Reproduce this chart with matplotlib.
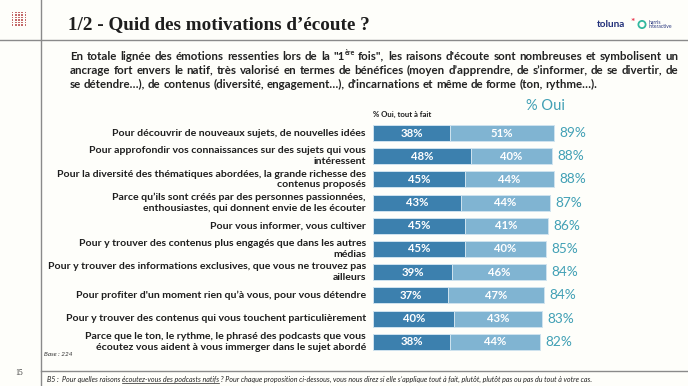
import math
import matplotlib
matplotlib.use("Agg")
import matplotlib.pyplot as plt
from matplotlib.patches import Rectangle, Circle
from matplotlib.font_manager import FontProperties
import numpy as np

# ---------------- data ----------------
categories = [
    "Pour découvrir de nouveaux sujets, de nouvelles idées",
    "Pour approfondir vos connaissances sur des sujets qui vous\nintéressent",
    "Pour la diversité des thématiques abordées, la grande richesse des\ncontenus proposés",
    "Parce qu\u2019ils sont créés par des personnes passionnées,\nenthousiastes, qui donnent envie de les écouter",
    "Pour vous informer, vous cultiver",
    "Pour y trouver des contenus plus engagés que dans les autres\nmédias",
    "Pour y trouver des informations exclusives, que vous ne trouvez pas\nailleurs",
    "Pour profiter d'un moment rien qu\u2019à vous, pour vous détendre",
    "Pour y trouver des contenus qui vous touchent particulièrement",
    "Parce que le ton, le rythme, le phrasé des podcasts que vous\nécoutez vous aident à vous immerger dans le sujet abordé",
]
tout_a_fait = [38, 48, 45, 43, 45, 45, 39, 37, 40, 38]
plutot = [51, 40, 44, 44, 41, 40, 46, 47, 43, 44]
total_oui = [89, 88, 88, 87, 86, 85, 84, 84, 83, 82]

title = "1/2 - Quid des motivations d\u2019écoute ?"
para_lines = [
    'En totale lignée des émotions ressenties lors de la "1^ère fois", les raisons d\'écoute sont nombreuses et symbolisent un',
    "ancrage fort envers le natif, très valorisé en termes de bénéfices (moyen d\u2019apprendre, de s\u2019informer, de se divertir, de",
    "se détendre\u2026), de contenus (diversité, engagement\u2026), d'incarnations et même de forme (ton, rythme\u2026).",
]
header_total = "% Oui"
header_dark = "% Oui, tout à fait"
base_txt = "Base : 224"
page_no = "15"
footer_parts = [("B5 :  Pour quelles raisons ", False),
                ("écoutez-vous des podcasts natifs", True),
                (" ? Pour chaque proposition ci-dessous, vous nous direz si elle s\u2019applique tout à fait, plutôt, plutôt pas ou pas du tout à votre cas.", False)]

# ---------------- style ----------------
BG = "#fefefa"
DARK = "#3c80ae"
LIGHT = "#80b4d2"
TEAL = "#41a0b5"
TXT = "#1e1e1e"
SANS = ["Lato", "DejaVu Sans"]
SERIF = ["Liberation Serif", "DejaVu Serif"]

W, H = 688, 386
fig = plt.figure(figsize=(W / 100, H / 100), dpi=100, facecolor=BG)
ov = fig.add_axes([0, 0, 1, 1])
ov.set_xlim(0, W)
ov.set_ylim(H, 0)
ov.axis("off")
R = fig.canvas.get_renderer()


def nb(s):
    return s.replace(" ", "\u00a0")


def measure(txt, **kw):
    t = ov.text(0, 0, txt, **kw)
    w = t.get_window_extent(renderer=R).width
    t.remove()
    return w


def snapped_y(txt, fs, Y):
    # place the glyph baseline exactly on pixel row Y (Agg bitmap placement)
    fp = FontProperties(family=SANS, weight="bold", size=fs)
    _, hh, dd = R.get_text_width_height_descent(txt, fp, ismath=False)
    return Y + math.floor(hh) - math.floor(hh - dd) - dd


def fit_size(txt, target, base=10, **kw):
    return base * target / measure(txt, fontsize=base, **kw)


# frame lines
ov.plot([41, 41], [0, H], color="#8a8a8a", lw=1.0)
ov.plot([0, W], [40, 40], color="#8a8a8a", lw=1.0)
ov.plot([41, W], [371, 371], color="#8a8a8a", lw=1.0)

# top-left icon (grid of small squares)
for cx in np.linspace(12.5, 25.5, 5):
    for cy in np.linspace(12.5, 25, 6):
        ov.add_patch(Rectangle((cx - 0.9, cy - 0.9), 1.8, 1.8, color="#c46a6a", lw=0))

# title
fs_title = fit_size(title, 302, family=SERIF, weight="bold")
ov.text(68, 25, title, family=SERIF, weight="bold", fontsize=fs_title, color=TXT,
        ha="left", va="center")

# logo
ov.text(597, 24.5, "toluna", family=SANS, weight="bold", fontsize=7.2, color="#22307a",
        ha="left", va="center")
ov.text(630.5, 22.5, "*", family=SANS, weight="bold", fontsize=7.5, color="#e8334a",
        ha="left", va="center")
ov.add_patch(Circle((642, 24.5), 3.6, fill=False, ec="#33b8a0", lw=1.3))
ov.text(648.5, 24.5, "harris\ninteractive", family=SANS, fontsize=3.6, color="#22307a",
        ha="left", va="center", linespacing=0.95)

# paragraph (justified, word by word, baseline-snapped)
PKW = dict(family=SANS, weight="bold", color="#222222")
SUP = 0.62


def parse_words(line):
    words = []
    for w in line.split(" "):
        if "^" in w:
            a, b = w.split("^")
            words.append([(a, False), (b, True)])
        else:
            words.append([(w, False)])
    return words


def word_width(word, fs):
    return sum(measure(s, fontsize=fs * (SUP if sup else 1), **PKW) for s, sup in word if s)


base_fs = 10
w_nat = max(measure(nb(para_lines[0].replace("^", "")), fontsize=base_fs, **PKW),
            measure(nb(para_lines[1]), fontsize=base_fs, **PKW))
fs_p = base_fs * 602 / w_nat
space_w = measure("a\u00a0a", fontsize=fs_p, **PKW) - measure("aa", fontsize=fs_p, **PKW)
x0p, x1p = 70, 678
baselines = [60, 74, 88]
for li, line in enumerate(para_lines):
    words = parse_words(line)
    widths = [word_width(w, fs_p) for w in words]
    if li < len(para_lines) - 1:
        gap = (x1p - x0p - sum(widths)) / (len(words) - 1)
    else:
        gap = space_w
    x = x0p
    for w, ww in zip(words, widths):
        xx = x
        for s, sup in w:
            f = fs_p * (SUP if sup else 1)
            Y = baselines[li] - (round(fs_p * 0.55) if sup else 0)
            ov.text(xx, snapped_y(s, f, Y), s, fontsize=f, ha="left", va="baseline", **PKW)
            xx += measure(s, fontsize=f, **PKW)
        x += ww + gap

# ---------------- bars ----------------
n = len(categories)
px_per_pct = 2.035
row_h = 23.2
top_c = 133
bx_left, bx_w = 373, 100 * px_per_pct
bx_top = top_c - row_h / 2
bx_bot = top_c + row_h * (n - 1) + row_h / 2
bx = fig.add_axes([bx_left / W, 1 - bx_bot / H, bx_w / W, (bx_bot - bx_top) / H])
bx.set_xlim(0, 100)
bx.set_ylim(n - 0.5, -0.5)
bx.axis("off")
bx.patch.set_alpha(0)

y = np.arange(n)
d = np.array(tout_a_fait)
p = np.array(plutot)
bx.barh(y, d, height=0.69, color=DARK, edgecolor="#cfe3ef", linewidth=0.7)
bx.barh(y, p, left=d, height=0.69, color=LIGHT, edgecolor="#cfe3ef", linewidth=0.7)

for i in range(n):
    bx.text(d[i] / 2, i, f"{d[i]}%", color="white", fontsize=8.2, family=SANS,
            weight="bold", ha="center", va="center")
    bx.text(d[i] + p[i] / 2, i, f"{p[i]}%", color="white", fontsize=8.2, family=SANS,
            weight="bold", ha="center", va="center")
    bx.annotate(f"{total_oui[i]}%", (d[i] + p[i], i), xytext=(4, 0),
                textcoords="offset points", color=TEAL, fontsize=9.8, family=SANS,
                ha="left", va="center")

# category labels
LKW = dict(family=SANS, weight="bold", color=TXT)
fs_l = fit_size(categories[2].split("\n")[0], 308, **LKW)
for i, lab in enumerate(categories):
    bx.text(-7 / px_per_pct, i, lab, fontsize=fs_l, ha="right", va="center",
            linespacing=1.25, clip_on=False, **LKW)

# headers
ov.text(373, 114, header_dark, family=SANS, weight="bold", fontsize=5.6, color=TXT,
        ha="left", va="center")
ov.text(545, 106.5, header_total, family=SANS, fontsize=10.5, color=TEAL,
        ha="center", va="center")

# base, page number, footer
ov.text(44, 356, base_txt, family=SANS, style="italic", fontsize=4.6, color="#333333",
        ha="left", va="baseline")
ov.text(15, 375, page_no, family=SERIF, fontsize=5.5, color="#333333", ha="left", va="baseline")

FKW = dict(family=SANS, style="italic", color="#222222")
full_footer = "".join(s for s, _ in footer_parts)
fs_f = fit_size(nb(full_footer), 543, **FKW)
xf = 47
yb = 382
for s, ul in footer_parts:
    ww = measure(nb(s), fontsize=fs_f, **FKW)
    ov.text(xf, yb, nb(s), fontsize=fs_f, ha="left", va="baseline", **FKW)
    if ul:
        ov.plot([xf, xf + ww], [yb + 1.2, yb + 1.2], color="#222222", lw=0.5)
    xf += ww

fig.savefig("out.png", dpi=100, facecolor=BG)
